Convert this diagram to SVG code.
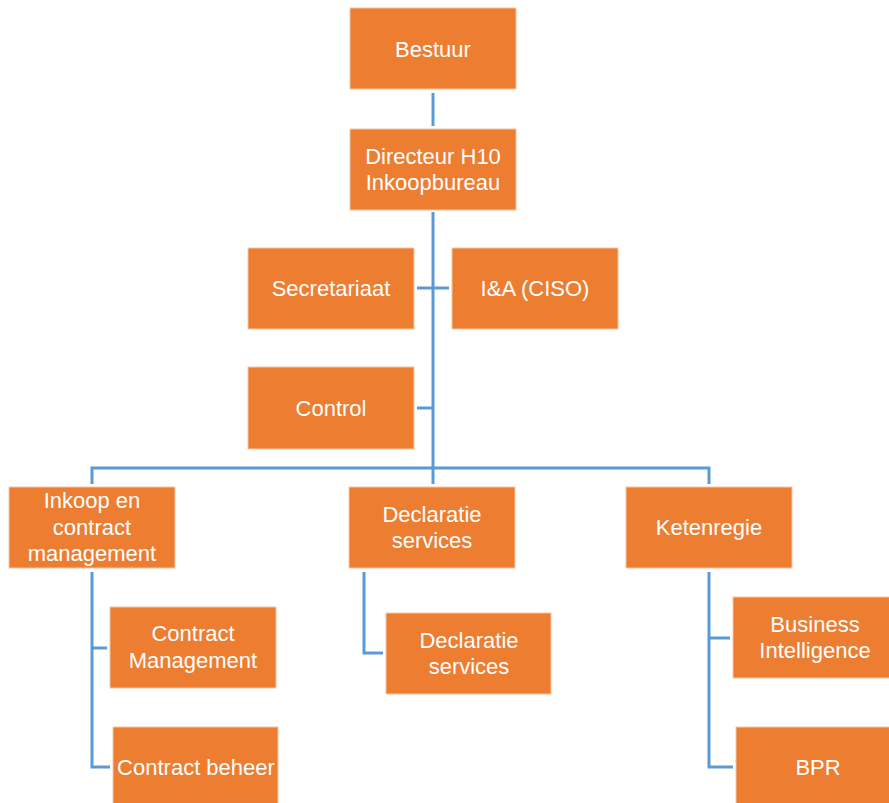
<svg xmlns="http://www.w3.org/2000/svg" width="889" height="803" viewBox="0 0 889 803">
<style>
.box{fill:#ED7D31;stroke:#F6C7A6;stroke-width:1}
.t{font-family:"Liberation Sans",Arial,sans-serif;font-size:22px;fill:#FFFFFF;text-anchor:middle}
.c{fill:none;stroke:#5B9BD5;stroke-width:3}
</style>
<rect width="889" height="803" fill="#FFFFFF"/>
<g id="connectors">
<path class="c" d="M433 93V126"/>
<path class="c" d="M433 212V468"/>
<path class="c" d="M417 288H449"/>
<path class="c" d="M417 408H433"/>
<path class="c" d="M92 484V468H709V484"/>
<path class="c" d="M433 468V484"/>
<path class="c" d="M92 572V767H110"/>
<path class="c" d="M92 648H107"/>
<path class="c" d="M364 572V653H383"/>
<path class="c" d="M709 572V767H733"/>
<path class="c" d="M709 638H730"/>
</g>
<g id="bestuur"><rect class="box" x="350" y="8" width="166" height="81"/><text class="t" x="433" y="57">Bestuur</text></g>
<g id="directeur"><rect class="box" x="350" y="129" width="166" height="81"/><text class="t" x="433" y="164">Directeur H10</text><text class="t" x="433" y="190">Inkoopbureau</text></g>
<g id="secretariaat"><rect class="box" x="248" y="248" width="166" height="81"/><text class="t" x="331" y="296">Secretariaat</text></g>
<g id="ia"><rect class="box" x="452" y="248" width="166" height="81"/><text class="t" x="535" y="296">I&amp;A (CISO)</text></g>
<g id="control"><rect class="box" x="248" y="367" width="166" height="82"/><text class="t" x="331" y="416">Control</text></g>
<g id="inkoop"><rect class="box" x="9" y="487" width="166" height="81"/><text class="t" x="92" y="508">Inkoop en</text><text class="t" x="92" y="535">contract</text><text class="t" x="92" y="561">management</text></g>
<g id="declaratie1"><rect class="box" x="349" y="487" width="166" height="81"/><text class="t" x="432" y="522">Declaratie</text><text class="t" x="432" y="548">services</text></g>
<g id="ketenregie"><rect class="box" x="626" y="487" width="166" height="81"/><text class="t" x="709" y="535">Ketenregie</text></g>
<g id="contractmanagement"><rect class="box" x="110" y="607" width="166" height="81"/><text class="t" x="193" y="641">Contract</text><text class="t" x="193" y="668">Management</text></g>
<g id="contractbeheer"><rect class="box" x="113" y="727" width="165" height="80"/><text class="t" x="196" y="775">Contract beheer</text></g>
<g id="declaratie2"><rect class="box" x="386" y="613" width="165" height="81"/><text class="t" x="469" y="648">Declaratie</text><text class="t" x="469" y="674">services</text></g>
<g id="bi"><rect class="box" x="733" y="597" width="160" height="81"/><text class="t" x="815" y="632">Business</text><text class="t" x="815" y="658">Intelligence</text></g>
<g id="bpr"><rect class="box" x="736" y="727" width="157" height="80"/><text class="t" x="818" y="775">BPR</text></g>
</svg>
